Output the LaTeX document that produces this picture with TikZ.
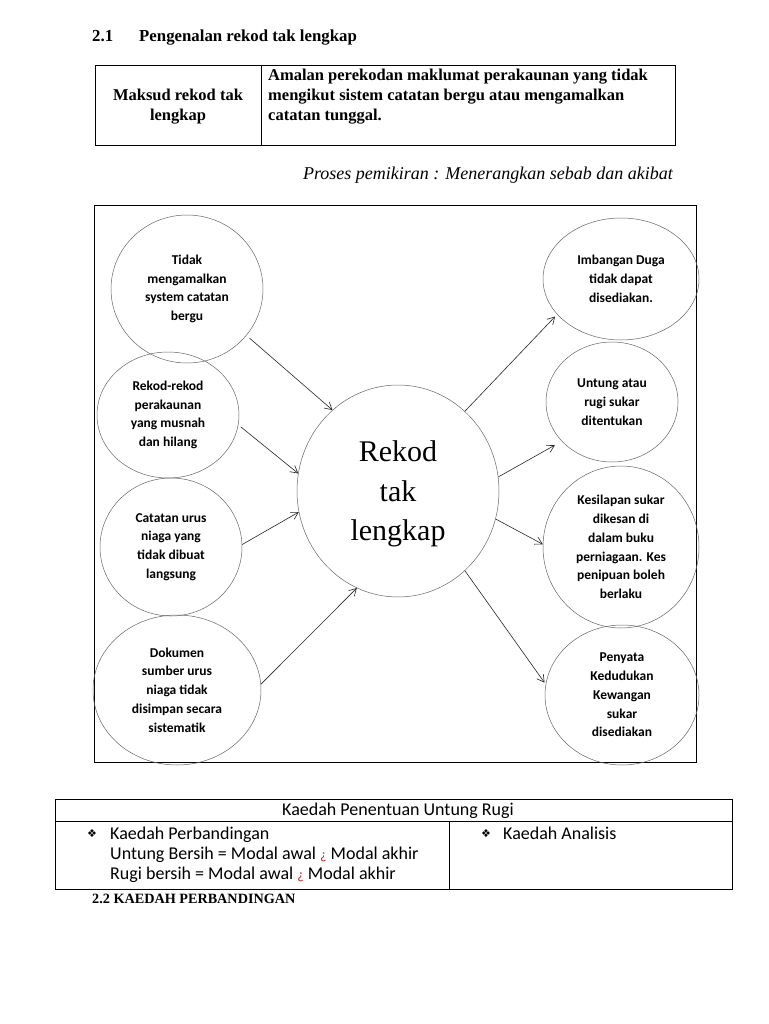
\documentclass[tikz,border=0pt]{standalone}
\usepackage{fontspec}
\setmainfont{Liberation Serif}
\newfontfamily\calib{Carlito}
\newfontfamily\dejavu{DejaVu Sans}
\usetikzlibrary{shapes.geometric,arrows.meta}
\definecolor{edgegray}{gray}{0.4}
\definecolor{qred}{RGB}{200,40,40}
\begin{document}
\begin{tikzpicture}[x=1pt,y=-1pt,
  bubble/.style={ellipse,draw=edgegray,line width=0.5pt,inner sep=0pt,align=center,
    font=\calib\bfseries\fontsize{13.5}{18.7}\selectfont},
  link/.style={draw=black!85,line width=0.6pt,-{Straight Barb[length=7pt,width=8pt]}},
  frame/.style={draw=black,line width=0.9pt},
  serifb/.style={font=\bfseries\fontsize{16.5}{20}\selectfont,inner sep=0pt},
  cal/.style={font=\calib\fontsize{18}{19.5}\selectfont,inner sep=0pt},
  bullet/.style={font=\dejavu\fontsize{11}{12}\selectfont,inner sep=0pt},
]
\useasboundingbox[fill=white] (0,0) rectangle (768,1024);

% heading
\node[serifb,font=\bfseries\fontsize{16.8}{20}\selectfont,anchor=base west] (num) at (92,42) {2.1};
\node[serifb,font=\bfseries\fontsize{16.8}{20}\selectfont,anchor=base west] (title) at (139,42) {Pengenalan rekod tak lengkap};

% top table
\draw[frame] (95,65) rectangle (675,145);
\draw[frame] (261,65) -- (261,145);
\node[serifb,anchor=base] (maksud1) at (178,101) {Maksud rekod tak};
\node[serifb,anchor=base] (maksud2) at (178,121) {lengkap};
\node[serifb,anchor=base west] (amalan1) at (268,81) {Amalan perekodan maklumat perakaunan yang tidak};
\node[serifb,anchor=base west] (amalan2) at (268,101) {mengikut sistem catatan bergu atau mengamalkan};
\node[serifb,anchor=base west] (amalan3) at (268,121) {catatan tunggal.};

\node[font=\itshape\fontsize{18}{20}\selectfont,inner sep=0pt,anchor=base east] (proses) at (673,180)
  {Proses pemikiran : Menerangkan sebab dan akibat};

% frame
\draw[frame] (94,205) rectangle (696,762);

% centre
\node[ellipse,draw=edgegray,line width=0.5pt,minimum width=202pt,minimum height=212pt,inner sep=0pt] (C) at (398,491) {};
\node[align=center,inner sep=0pt,font=\fontsize{30}{39.5}\selectfont] (Ctext) at (398,494) {Rekod\\tak\\lengkap};

% left bubbles
\node[bubble,minimum width=152pt,minimum height=148pt] (L1) at (187,289) {Tidak\\mengamalkan\\system catatan\\bergu};
\node[bubble,minimum width=142pt,minimum height=126pt] (L2) at (168,415) {Rekod-rekod\\perakaunan\\yang musnah\\dan hilang};
\node[bubble,minimum width=142pt,minimum height=138pt] (L3) at (171,547) {Catatan urus\\niaga yang\\tidak dibuat\\langsung};
\node[bubble,minimum width=168pt,minimum height=150pt] (L4) at (177,690) {Dokumen\\sumber urus\\niaga tidak\\disimpan secara\\sistematik};

% right bubbles
\node[bubble,minimum width=156pt,minimum height=122pt] (R1) at (621,279) {Imbangan Duga\\tidak dapat\\disediakan.};
\node[bubble,minimum width=132pt,minimum height=120pt] (R2) at (612,402) {Untung atau\\rugi sukar\\ditentukan};
\node[bubble,minimum width=156pt,minimum height=162pt] (R3) at (621,547) {Kesilapan sukar\\dikesan di\\dalam buku\\perniagaan. Kes\\penipuan boleh\\berlaku};
\node[bubble,minimum width=154pt,minimum height=140pt] (R4) at (622,695) {Penyata\\Kedudukan\\Kewangan\\sukar\\disediakan};

% arrows
\draw[link,shorten <=4pt] (L1.-38) -- (C.129);
\draw[link,shorten <=3pt] (L2.-8) -- (C.170);
\draw[link] (L3.2) -- (C.192);
\draw[link] (L4.4) -- (C.247);
\draw[link,shorten >=3pt] (C.50) -- (R1.209);
\draw[link,shorten >=8pt] (C.8) -- (R2.218);
\draw[link] (C.-16) -- (R3.178);
\draw[link,shorten >=2pt] (C.-50) -- (R4.172);

% bottom table
\draw[frame] (55,799) rectangle (732,889);
\draw[frame] (55,821) -- (732,821);
\draw[frame] (449,821) -- (449,889);
\node[cal,anchor=base] (kaedah) at (398,815) {Kaedah Penentuan Untung Rugi};
\node[bullet,anchor=base west] (b1) at (87,837) {❖};
\node[cal,anchor=base west] (perb) at (110,839) {Kaedah Perbandingan};
\node[cal,anchor=base west] (ub) at (110,859) {Untung Bersih = Modal awal {\color{qred}\fontsize{14}{15}\selectfont ¿} Modal akhir};
\node[cal,anchor=base west] (rb) at (110,879) {Rugi bersih = Modal awal {\color{qred}\fontsize{14}{15}\selectfont ¿} Modal akhir};
\node[bullet,anchor=base west] (b2) at (481,837) {❖};
\node[cal,anchor=base west] (anal) at (503,839) {Kaedah Analisis};

\node[font=\bfseries\fontsize{14.2}{16}\selectfont,inner sep=0pt,anchor=base west] (kp) at (92,903) {2.2 KAEDAH PERBANDINGAN};
\end{tikzpicture}
\end{document}
